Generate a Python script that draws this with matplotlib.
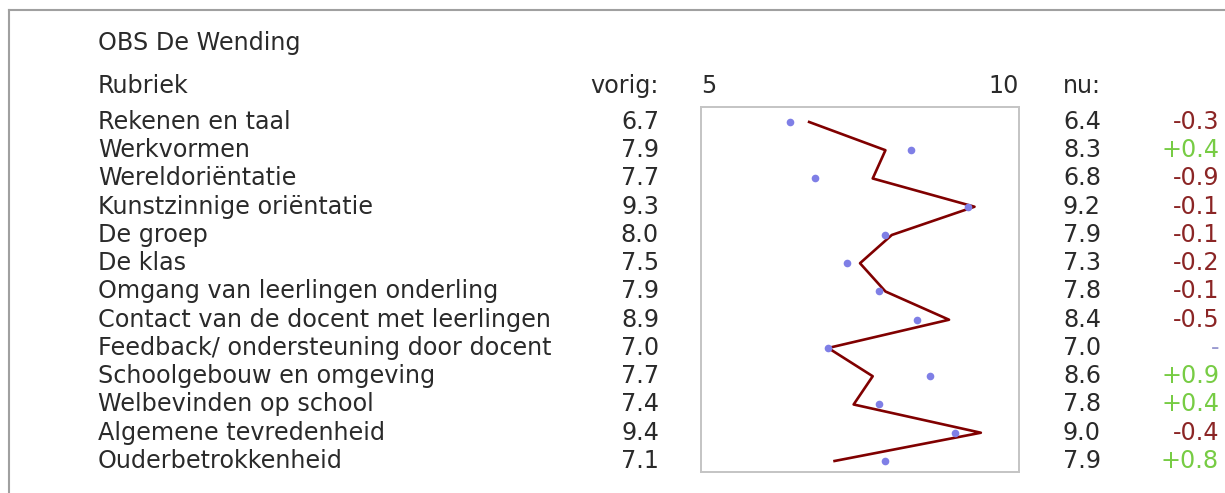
import matplotlib
matplotlib.use('Agg')
import matplotlib.pyplot as plt
import matplotlib.transforms as mtransforms
from matplotlib.lines import Line2D

# ─── data ────────────────────────────────────────────────────────────────
title = "OBS De Wending"
rubrieken = [
    "Rekenen en taal",
    "Werkvormen",
    "Wereldoriëntatie",
    "Kunstzinnige oriëntatie",
    "De groep",
    "De klas",
    "Omgang van leerlingen onderling",
    "Contact van de docent met leerlingen",
    "Feedback/ ondersteuning door docent",
    "Schoolgebouw en omgeving",
    "Welbevinden op school",
    "Algemene tevredenheid",
    "Ouderbetrokkenheid",
]
vorig = [6.7, 7.9, 7.7, 9.3, 8.0, 7.5, 7.9, 8.9, 7.0, 7.7, 7.4, 9.4, 7.1]
nu    = [6.4, 8.3, 6.8, 9.2, 7.9, 7.3, 7.8, 8.4, 7.0, 8.6, 7.8, 9.0, 7.9]
scale_min, scale_max = 5, 10

W, H = 1225, 493
TXT = '#2a2a2a'
FS = 17.2
plt.rcParams['font.family'] = ['DejaVu Sans']

fig = plt.figure(figsize=(W / 100, H / 100), dpi=100)

def fx(px):
    return px / W

# plot box in pixel layout
bx0, bx1, by0, by1 = 701, 1019, 107, 472
ax = fig.add_axes([fx(bx0), (H - by1) / H, (bx1 - bx0) / W, (by1 - by0) / H])
rows = list(range(len(rubrieken)))
ax.plot(vorig, rows, color='#800000', lw=1.9, zorder=2)
ax.plot(nu, rows, 'o', color='#7f7fe6', ms=5.5, mec='none', zorder=3)
ax.set_xlim(scale_min, scale_max)
ax.set_ylim(12.39, -0.53)
ax.set_xticks([])
ax.set_yticks([])
for sp in ax.spines.values():
    sp.set_color('#c4c4c4')
    sp.set_linewidth(1.4)

tr = mtransforms.blended_transform_factory(fig.transFigure, ax.transData)

def put(x, y, s, ha='left', color=TXT):
    fig.text(fx(x), y, s, transform=tr, ha=ha, va='center',
             fontsize=FS, color=color, clip_on=False)

# header
put(98, -2.78, title)
put(98, -1.26, "Rubriek")
put(659, -1.26, "vorig:", ha='right')
put(701, -1.26, str(scale_min))
put(1019, -1.26, str(scale_max), ha='right')
put(1063, -1.26, "nu:")

for i, (lab, v, n) in enumerate(zip(rubrieken, vorig, nu)):
    put(98, i, lab)
    put(659, i, f"{v:.1f}", ha='right')
    put(1063, i, f"{n:.1f}")
    d = round(n - v, 1)
    if d > 0:
        put(1219, i, f"+{d:.1f}", ha='right', color='#77cc44')
    elif d < 0:
        put(1219, i, f"{d:.1f}", ha='right', color='#8b2525')
    else:
        put(1219, i, "-", ha='right', color='#9a9ad0')

# outer frame (top and left edges)
fig.add_artist(Line2D([fx(9), 1], [(H - 10) / H, (H - 10) / H],
                      transform=fig.transFigure, color='#a0a0a0', lw=1.5))
fig.add_artist(Line2D([fx(9), fx(9)], [0, (H - 10) / H],
                      transform=fig.transFigure, color='#a0a0a0', lw=1.5))

fig.savefig("out.png", dpi=100)
